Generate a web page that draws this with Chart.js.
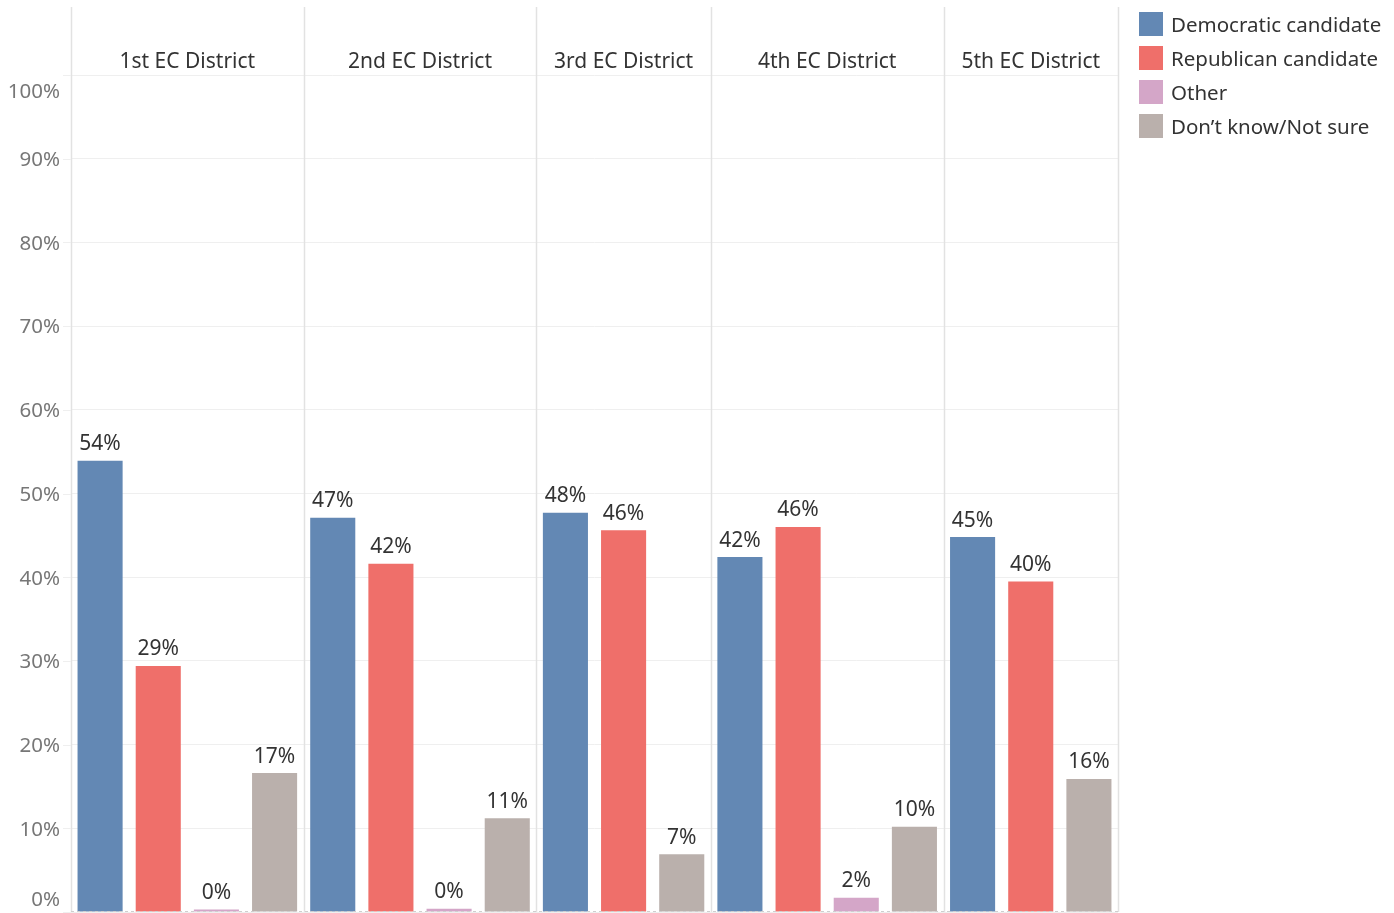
<!DOCTYPE html>
<html>
<head>
<meta charset="utf-8">
<script src="https://cdn.jsdelivr.net/npm/chart.js@4.4.1/dist/chart.umd.min.js"></script>
<style>
  html, body { margin: 0; padding: 0; background: #fff; }
  #wrap { width: 1394px; height: 913px; position: relative; }
</style>
</head>
<body>
<div id="wrap"><canvas id="chart"></canvas></div>
<script>
// --- Daten ---
const districts = ['1st EC District', '2nd EC District', '3rd EC District', '4th EC District', '5th EC District'];
const seriesNames = ['Democratic candidate', 'Republican candidate', 'Other', 'Don\u2019t know/Not sure'];
const democratic = [53.9, 47.1, 47.7, 42.4, 44.8];
const republican = [29.4, 41.6, 45.6, 46.0, 39.5];
const other = [0.3, 0.4, null, 1.7, null];   // null = kein Balken im Bezirk
const dontKnow = [16.6, 11.2, 6.9, 10.2, 15.9];
const yTicks = [0, 10, 20, 30, 40, 50, 60, 70, 80, 90, 100];

const seriesValues = [democratic, republican, other, dontKnow];
const seriesColors = ['#6388b4', '#ef6f6a', '#d4a6c8', '#bab0ac'];

const FONT = '"Noto Sans", "Open Sans", sans-serif';

// --- Slots aufbauen: ein Slot pro vorhandenem Balken ---
const slots = [];
for (let d = 0; d < districts.length; d++) {
    for (let s = 0; s < seriesValues.length; s++) {
        if (seriesValues[s][d] !== null) slots.push({ d: d, s: s });
    }
}
const slotLabels = slots.map(sl => districts[sl.d] + ' / ' + seriesNames[sl.s]);

const datasets = seriesNames.map((name, s) => ({
    label: name,
    data: slots.map(sl => sl.s === s ? seriesValues[s][sl.d] : null),
    backgroundColor: seriesColors[s],
    borderWidth: 0
}));

// --- Plugin: Trennlinien, Kopfzeilen, Achsenbeschriftung, Werte, Legende ---
const tableauPlugin = {
    id: 'tableauLook',
    beforeDatasetsDraw(chart) {
        const ctx = chart.ctx;
        const area = chart.chartArea;
        const x = chart.scales.x;
        const slotW = (area.right - area.left) / slots.length;
        ctx.save();
        // Bezirks-Trennlinien
        ctx.strokeStyle = '#e2e2e2';
        ctx.lineWidth = 1.5;
        const bounds = [];
        for (let i = 0; i < slots.length; i++) {
            if (i === 0 || slots[i].d !== slots[i - 1].d) bounds.push(x.getPixelForValue(i) - slotW / 2);
        }
        bounds.push(area.right);
        for (const bx of bounds) {
            ctx.beginPath();
            ctx.moveTo(Math.round(bx) + 0.5, 7);
            ctx.lineTo(Math.round(bx) + 0.5, area.bottom);
            ctx.stroke();
        }
        // Kopfzeilen
        ctx.fillStyle = '#333';
        ctx.font = '21px ' + FONT;
        ctx.textAlign = 'center';
        ctx.textBaseline = 'middle';
        for (let d = 0; d < districts.length; d++) {
            ctx.fillText(districts[d], (bounds[d] + bounds[d + 1]) / 2, 62);
        }
        // Y-Beschriftung
        const y = chart.scales.y;
        ctx.fillStyle = '#777';
        ctx.font = '20.5px ' + FONT;
        ctx.textAlign = 'right';
        ctx.strokeStyle = '#efefef';
        ctx.lineWidth = 1;
        for (const v of yTicks) {
            let py = y.getPixelForValue(v);
            ctx.beginPath();
            ctx.moveTo(area.left - 8, Math.round(py) + 0.5);
            ctx.lineTo(area.left, Math.round(py) + 0.5);
            ctx.stroke();
            if (v === 100) py += 16;
            if (v === 0) py -= 13;
            ctx.fillText(v + '%', area.left - 11, py + 1.5);
        }
        ctx.restore();
    },
    afterDatasetsDraw(chart) {
        const ctx = chart.ctx;
        const area = chart.chartArea;
        ctx.save();
        // Nulllinie gestrichelt
        ctx.strokeStyle = '#cfcfcf';
        ctx.setLineDash([3, 3]);
        ctx.beginPath();
        ctx.moveTo(area.left, area.bottom - 0.5);
        ctx.lineTo(area.right, area.bottom - 0.5);
        ctx.stroke();
        ctx.setLineDash([]);
        // Werte über den Balken
        ctx.fillStyle = '#333';
        ctx.font = '21px ' + FONT;
        ctx.textAlign = 'center';
        ctx.textBaseline = 'middle';
        chart.data.datasets.forEach((ds, i) => {
            chart.getDatasetMeta(i).data.forEach((bar, j) => {
                const v = ds.data[j];
                if (v === null || v === undefined) return;
                ctx.fillText(Math.round(v) + '%', bar.x, bar.y - 16.5);
            });
        });
        // Legende
        ctx.textAlign = 'left';
        ctx.font = '20.5px ' + FONT;
        for (let s = 0; s < seriesNames.length; s++) {
            const top = 12 + s * 34;
            ctx.fillStyle = seriesColors[s];
            ctx.fillRect(1139, top, 24, 24);
            ctx.fillStyle = '#333';
            ctx.fillText(seriesNames[s], 1171, top + 14.5);
        }
        ctx.restore();
    }
};

new Chart(document.getElementById('chart'), {
    type: 'bar',
    data: { labels: slotLabels, datasets: datasets },
    options: {
        responsive: true,
        maintainAspectRatio: false,
        animation: false,
        layout: { padding: { top: 75, left: 71, right: 276, bottom: 1 } },
        datasets: {
            bar: { grouped: false, categoryPercentage: 1, barPercentage: 0.775 }
        },
        scales: {
            x: { display: false, offset: true },
            y: {
                min: 0, max: 100,
                ticks: { display: false, stepSize: 10 },
                border: { display: false },
                grid: { color: '#efefef', drawTicks: false }
            }
        },
        plugins: { legend: { display: false }, tooltip: { enabled: false } }
    },
    plugins: [tableauPlugin]
});
</script>
</body>
</html>
